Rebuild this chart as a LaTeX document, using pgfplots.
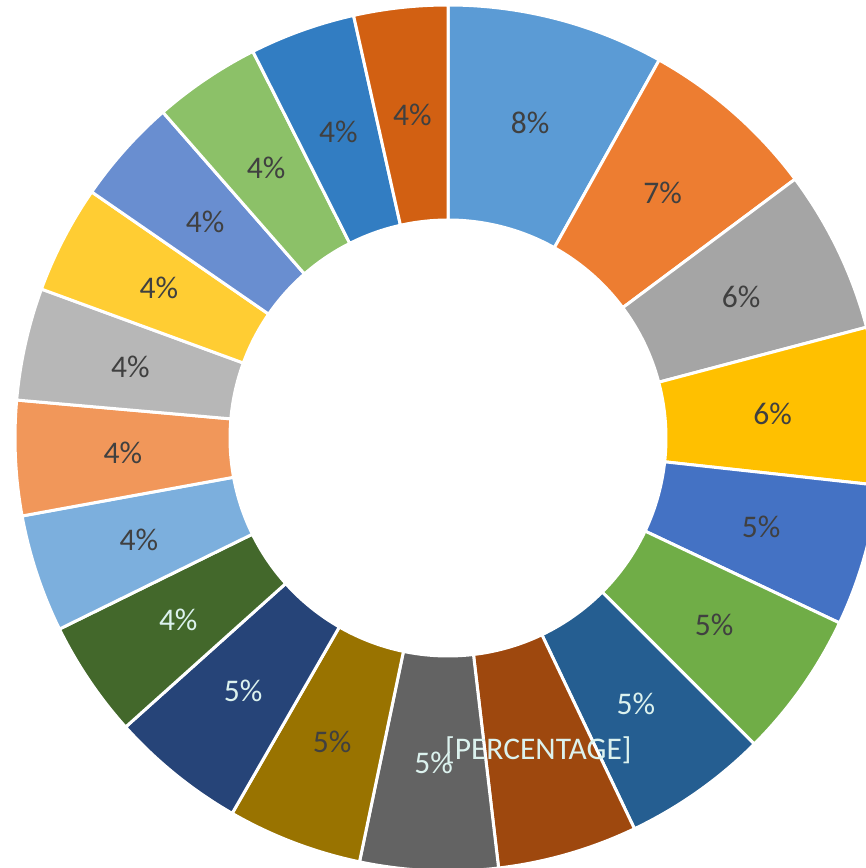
\documentclass[border=0pt]{standalone}
\usepackage{pgfplots}
\usepackage{pgfplotstable}
\pgfplotsset{compat=1.18}
\usepackage{fontspec}
\setmainfont{Carlito}

\definecolor{c1}{HTML}{5B9BD5}
\definecolor{c2}{HTML}{ED7D31}
\definecolor{c3}{HTML}{A5A5A5}
\definecolor{c4}{HTML}{FFC000}
\definecolor{c5}{HTML}{4472C4}
\definecolor{c6}{HTML}{70AD47}
\definecolor{c7}{HTML}{255E91}
\definecolor{c8}{HTML}{9E480E}
\definecolor{c9}{HTML}{636363}
\definecolor{c10}{HTML}{997300}
\definecolor{c11}{HTML}{264478}
\definecolor{c12}{HTML}{43682B}
\definecolor{c13}{HTML}{7CAFDD}
\definecolor{c14}{HTML}{F1975A}
\definecolor{c15}{HTML}{B7B7B7}
\definecolor{c16}{HTML}{FFCD33}
\definecolor{c17}{HTML}{698ED0}
\definecolor{c18}{HTML}{8CC168}
\definecolor{c19}{HTML}{327DC2}
\definecolor{c20}{HTML}{D26012}
\definecolor{dk}{HTML}{404040}
\definecolor{lt}{HTML}{DCF2EE}

\pgfplotstableread{
value fillc textc label
8.11 c1 dk 8\%
6.69 c2 dk 7\%
6.08 c3 dk 6\%
5.86 c4 dk 6\%
5.28 c5 dk 5\%
5.47 c6 dk 5\%
5.42 c7 lt 5\%
5.22 c8 lt [PERCENTAGE]
5.14 c9 lt 5\%
5.03 c10 dk 5\%
5.06 c11 lt 5\%
4.36 c12 lt 4\%
4.39 c13 dk 4\%
4.28 c14 dk 4\%
4.19 c15 dk 4\%
4.03 c16 dk 4\%
3.94 c17 dk 4\%
4.00 c18 dk 4\%
3.94 c19 dk 4\%
3.50 c20 dk 4\%
}\donut

\tikzset{lbl/.style={font=\fontsize{31.5}{37}\selectfont}}

\begin{document}
\begin{tikzpicture}
\begin{axis}[
  x=1pt, y=1pt,
  xmin=-448, xmax=418, ymin=-430, ymax=438,
  scale only axis,
  hide axis,
]
\pgfplotstablegetrowsof{\donut}
\pgfmathtruncatemacro{\nrows}{\pgfplotsretval-1}
\def\total{0}
\pgfplotsforeachungrouped \i in {0,...,\nrows}{%
  \pgfplotstablegetelem{\i}{value}\of\donut
  \pgfmathsetmacro{\total}{\total+\pgfplotsretval}%
}
\def\cum{0}
\def\Ro{433}
\def\Ri{218}
\pgfplotsforeachungrouped \i in {0,...,\nrows}{%
  \pgfplotstablegetelem{\i}{value}\of\donut \let\v\pgfplotsretval
  \pgfplotstablegetelem{\i}{fillc}\of\donut \let\fc\pgfplotsretval
  \pgfmathsetmacro{\aone}{90-\cum/\total*360}%
  \pgfmathsetmacro{\cum}{\cum+\v}%
  \pgfmathsetmacro{\atwo}{90-\cum/\total*360}%
  \edef\temp{\noexpand\draw[fill=\fc, draw=white, line width=3pt, line join=round]
    ({\Ro*cos(\aone)},{\Ro*sin(\aone)}) arc[start angle=\aone, end angle=\atwo, radius=\Ro pt]
    -- ({\Ri*cos(\atwo)},{\Ri*sin(\atwo)}) arc[start angle=\atwo, end angle=\aone, radius=\Ri pt]
    -- cycle;}%
  \temp
}
\def\cum{0}
\pgfplotsforeachungrouped \i in {0,...,\nrows}{%
  \pgfplotstablegetelem{\i}{value}\of\donut \let\v\pgfplotsretval
  \pgfplotstablegetelem{\i}{textc}\of\donut \let\tc\pgfplotsretval
  \pgfplotstablegetelem{\i}{label}\of\donut \let\lb\pgfplotsretval
  \pgfmathsetmacro{\aone}{90-\cum/\total*360}%
  \pgfmathsetmacro{\cum}{\cum+\v}%
  \pgfmathsetmacro{\atwo}{90-\cum/\total*360}%
  \pgfmathsetmacro{\amid}{(\aone+\atwo)/2}%
  \edef\temp{\noexpand\node[lbl, text=\tc, inner sep=0pt] at ({325.5*cos(\amid)},{325.5*sin(\amid)}) {\lb};}%
  \temp
}
\end{axis}
\pgfresetboundingbox
\path[use as bounding box] (current axis.south west) rectangle (current axis.north east);
\end{tikzpicture}
\end{document}
